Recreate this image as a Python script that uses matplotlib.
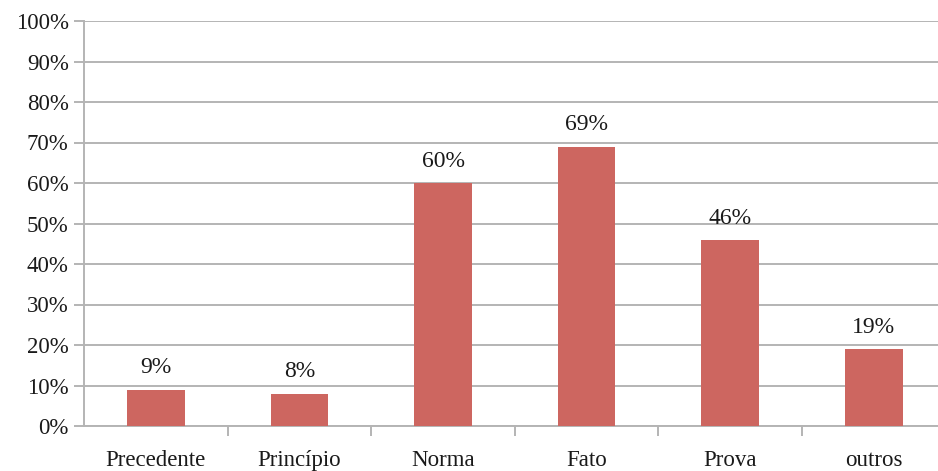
import numpy as np
import matplotlib.pyplot as plt
from matplotlib.ticker import FixedLocator, PercentFormatter

categories = ['Precedente', 'Princípio', 'Norma', 'Fato', 'Prova', 'outros']
values = [9, 8, 60, 69, 46, 19]

plt.rcParams['font.family'] = ['Liberation Serif', 'DejaVu Serif']

fig = plt.figure(figsize=(9.38, 4.71), dpi=100)
ax = fig.add_axes([84 / 938, 1 - 426 / 471, (945.6 - 84) / 938, 405 / 471])

x = np.arange(len(categories))
ax.bar(x, values, width=0.4, color='#cd6660', zorder=3)
for xi, v in zip(x, values):
    ax.annotate(f'{v}%', (xi, v), xytext=(0, 8), textcoords='offset points',
                ha='center', va='bottom', fontsize=17, color='#1a1a1a')

ax.set_xlim(-0.5, len(categories) - 0.5)
ax.set_ylim(0, 100)
ax.set_yticks(np.arange(0, 101, 10))
ax.yaxis.set_major_formatter(PercentFormatter(decimals=0))
ax.grid(axis='y', color='#b4b4b4', linewidth=1.4, zorder=0)

# category labels centred on bars, tick marks between categories
ax.set_xticks(x)
ax.set_xticklabels(categories, fontsize=16.5, color='#1a1a1a')
ax.tick_params(axis='x', length=0, pad=17.5)
ax.xaxis.set_minor_locator(FixedLocator(np.arange(0.5, len(categories) - 0.5, 1)))
ax.tick_params(axis='x', which='minor', length=7, color='#b4b4b4', width=1.4)
ax.tick_params(axis='y', length=7, color='#b4b4b4', width=1.4, labelsize=16.5,
               labelcolor='#1a1a1a', pad=4)

for side in ['top', 'right']:
    ax.spines[side].set_visible(False)
for side in ['left', 'bottom']:
    ax.spines[side].set_color('#b4b4b4')
    ax.spines[side].set_linewidth(1.4)

fig.savefig('out.png', dpi=100)
